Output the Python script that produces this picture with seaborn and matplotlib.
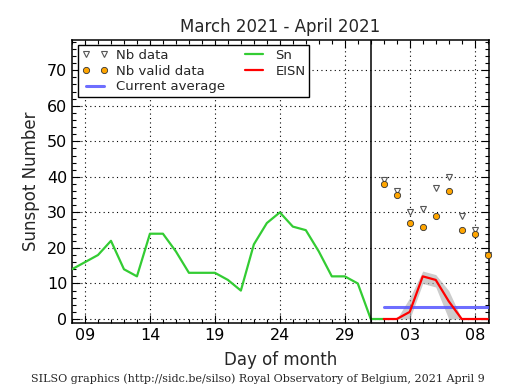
import numpy as np
import pandas as pd
import seaborn as sns
import matplotlib.pyplot as plt
from matplotlib.ticker import MultipleLocator, FixedLocator

# Daily sunspot number (days counted from 1 March, so 32 = 1 April)
sn_days = list(range(8, 33))
sn_values = [14, 16, 18, 22, 14, 12, 24, 24, 19, 13, 13, 13, 11, 8,
             21, 27, 30, 26, 25, 19, 12, 12, 10, 0, 0]

# Estimated ISN for the current month
eisn_days = list(range(32, 41))
eisn_values = [0, 0, 2, 12, 11, 5, 0, 0, 0]
eisn_low = [0, 0, 0, 10, 9, 0, 0, 0, 0]
eisn_high = [0, 0, 6, 13.5, 12.5, 8, 0, 0, 0]
nb_data = [39, 36, 30, 31, 37, 40, 29, 25, 18]
nb_valid = [38, 35, 27, 26, 29, 36, 25, 24, 18]
current_avg = 3.3

tick_days = [9, 14, 19, 24, 29, 34, 39]
tick_labels = ['09', '14', '19', '24', '29', '03', '08']

sn_df = pd.DataFrame({'day': sn_days, 'Sn': sn_values})
eisn_df = pd.DataFrame({'day': eisn_days, 'EISN': eisn_values,
                        'low': eisn_low, 'high': eisn_high,
                        'nb': nb_data, 'valid': nb_valid})

sns.set_style("ticks")
plt.rcParams['font.family'] = ['DejaVu Sans']

fig = plt.figure(figsize=(5.15, 3.9), dpi=100)
ax = fig.add_axes([0.1398, 0.172, 0.8097, 0.7254])

ax.fill_between(eisn_df['day'], eisn_df['low'], eisn_df['high'],
                color='#aaaaaa', alpha=0.6, lw=0, zorder=2)
sns.lineplot(data=sn_df, x='day', y='Sn', color='#33cc33', lw=1.6,
             ax=ax, label='Sn', zorder=3)
sns.lineplot(data=eisn_df, x='day', y='EISN', color='red', lw=1.6,
             ax=ax, label='EISN', zorder=4)
ax.plot([eisn_days[0], eisn_days[-1]], [current_avg, current_avg],
        color='#5555ff', alpha=0.85, lw=2.2, label='Current average', zorder=3)
ax.plot(eisn_df['day'], eisn_df['nb'], linestyle='none', marker='v',
        markersize=4, markerfacecolor='white', markeredgecolor='#555555',
        markeredgewidth=0.8, label='Nb data', zorder=5, clip_on=False)
ax.plot(eisn_df['day'], eisn_df['valid'], linestyle='none', marker='o',
        markersize=4.5, markerfacecolor='orange', markeredgecolor='#333333',
        markeredgewidth=0.6, label='Nb valid data', zorder=6, clip_on=False)

ax.axvline(31, color='black', lw=1.1, zorder=4)

ax.set_xlim(8, 40.1)
ax.set_ylim(-1.1, 78.5)
ax.xaxis.set_major_locator(FixedLocator(tick_days))
ax.set_xticklabels(tick_labels)
ax.xaxis.set_minor_locator(MultipleLocator(1))
ax.yaxis.set_major_locator(MultipleLocator(10))
ax.yaxis.set_minor_locator(MultipleLocator(2))
ax.tick_params(which='both', direction='in', top=True, right=True,
               labelsize=11.5, colors='black')
ax.tick_params(which='major', length=6, width=0.8)
ax.tick_params(which='minor', length=3, width=0.8)
ax.grid(True, which='major', color='black', linestyle=(0, (1, 3)), lw=0.8)
for s in ax.spines.values():
    s.set_color('black')
    s.set_linewidth(1.1)

ax.set_title('March 2021 - April 2021', fontsize=12, pad=6)
ax.set_xlabel('Day of month', fontsize=12, labelpad=6)
ax.set_ylabel('Sunspot Number', fontsize=12, labelpad=5)

h, l = ax.get_legend_handles_labels()
order = ['Nb data', 'Nb valid data', 'Current average', 'Sn', 'EISN']
hd = dict(zip(l, h))
leg = ax.legend([hd[k] for k in order], order, loc='upper left', ncol=2,
                numpoints=2, fontsize=9.5, frameon=True, fancybox=False,
                borderpad=0.3, labelspacing=0.2, handlelength=2.0,
                handletextpad=0.6, columnspacing=1.2, borderaxespad=0,
                bbox_to_anchor=(0.014, 0.982))
leg.get_frame().set_edgecolor('black')
leg.get_frame().set_linewidth(1.0)
leg.get_frame().set_alpha(1)

fig.text(0.5, 0.02, 'SILSO graphics (http://sidc.be/silso) Royal Observatory of Belgium, 2021 April 9',
         ha='center', fontsize=8.0, family='DejaVu Serif')

fig.savefig('out.png', dpi=100)
